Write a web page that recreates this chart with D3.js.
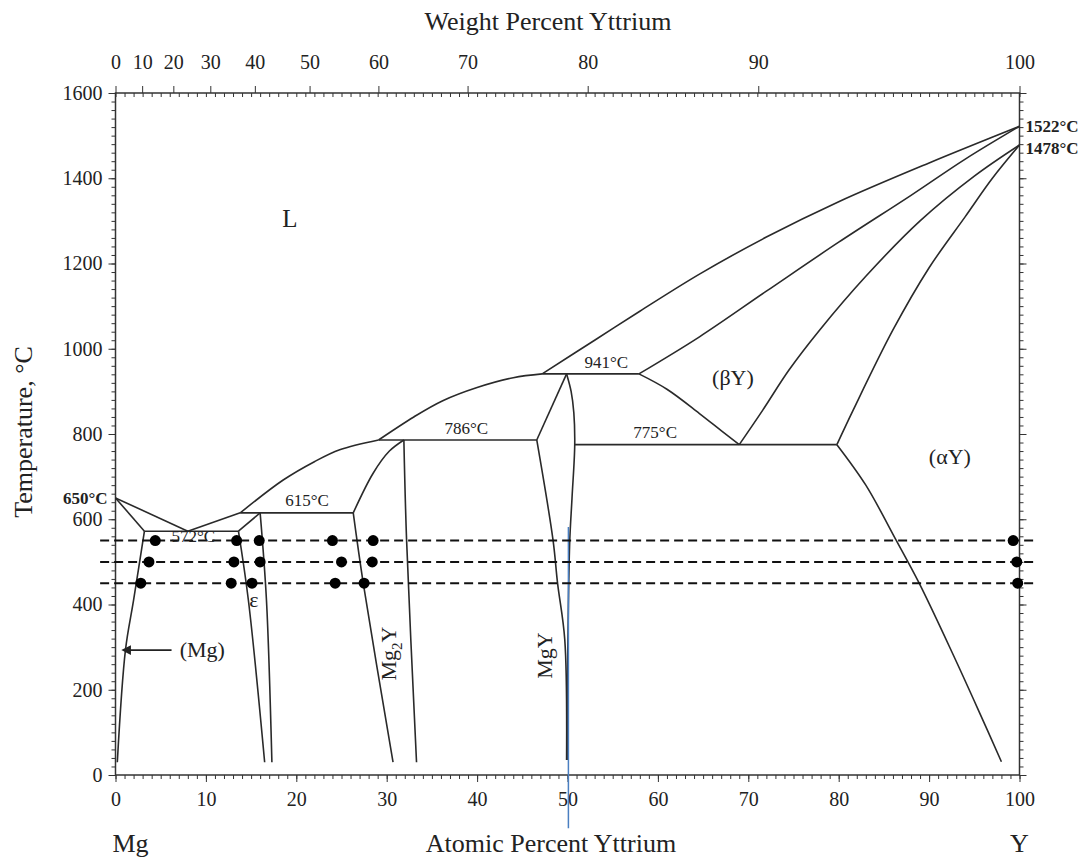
<!DOCTYPE html>
<html>
<head>
<meta charset="utf-8">
<script src="https://cdn.jsdelivr.net/npm/d3@7"></script>
<style>
  body { margin: 0; background: #fff; }
  svg text { font-family: "Liberation Serif", "Times New Roman", serif; fill: #222; }
</style>
</head>
<body>
<svg id="chart" width="1092" height="859"></svg>
<script>
// ---- data (atomic % Y, temperature °C) ----
const atTicks = [0, 10, 20, 30, 40, 50, 60, 70, 80, 90, 100];
const wtTicks = [0, 10, 20, 30, 40, 50, 60, 70, 80, 90, 100];
const tempTicks = [0, 200, 400, 600, 800, 1000, 1200, 1400, 1600];

const liquidusMg = [[0, 650], [8, 572]];
const solidusMg = [[0, 650], [3.2, 572]];
const solvusMg = [[3.2, 572], [2.0, 410], [1.1, 293], [0.2, 30]];
const eutectic572 = [[3.2, 572], [13.6, 572]];
const liquidusEps = [[8, 572], [13.8, 615]];
const epsTop = [[16.0, 615], [13.6, 572]];
const epsLeft = [[13.6, 572], [14.7, 410], [16.5, 30]];
const epsRight = [[16.0, 615], [16.7, 410], [17.3, 30]];
const peritectic615 = [[13.8, 615], [26.3, 615]];
const liquidusMid = [[13.8, 615], [18.55, 692], [22, 735], [24.8, 763], [29.1, 786]];
const mg2yTop = [[31.9, 786], [30.3, 760], [28.5, 708], [26.3, 615]];
const mg2yLeft = [[26.3, 615], [27.4, 451], [30.7, 30]];
const mg2yRight = [[31.9, 786], [32.2, 551], [33.3, 30]];
const peritectic786 = [[29.1, 786], [46.6, 786]];
const liquidusUpper = [[29.1, 786], [33, 840], [36.2, 878], [40, 909], [44, 932], [47.2, 941]];
const eutectic941 = [[47.2, 941], [57.9, 941]];
const mgyTop = [[49.9, 941], [46.6, 786]];
const mgyLeft = [[46.6, 786], [48.4, 551], [48.9, 450], [49.7, 317], [49.9, 35]];
const mgyRight = [[49.9, 941], [50.4, 900], [50.7, 850], [50.8, 775], [50.5, 650], [50.25, 550], [50.1, 400], [50.0, 200], [50.0, 35]];
const eutectoid775 = [[50.8, 775], [79.8, 775]];
const liquidusY = [[47.2, 941], [53, 1020], [58, 1088], [64.6, 1175], [72, 1262], [80, 1345], [90, 1436], [100, 1522]];
const solidusY = [[57.9, 941], [64.6, 1028], [72, 1135], [80, 1250], [88, 1360], [94, 1445], [100, 1522]];
const betaLower = [[57.9, 941], [61, 905], [64.6, 848], [67, 808], [69.0, 775]];
const betaRight = [[69.0, 775], [71.6, 856], [74.5, 950], [77.9, 1044], [83, 1170], [89, 1300], [95, 1405], [100, 1478]];
const alphaLeft = [[79.8, 775], [81.6, 856], [86.0, 1044], [90, 1190], [94, 1310], [97, 1400], [100, 1478]];
const solvusY = [[79.8, 775], [83, 680], [86.35, 551], [88.9, 450], [92.6, 285], [95.5, 150], [98, 31]];

const isotherms = [550, 500, 450];
const dots550 = [4.4, 13.4, 15.9, 24.0, 28.5, 99.3];
const dots500 = [3.7, 13.1, 16.0, 25.0, 28.4, 99.7];
const dots450 = [2.8, 12.8, 15.1, 24.3, 27.5, 99.8];
const blueLine = [[50.1, 582], [50.1, -125]];

const tempLabels = [
  { t: "572°C", x: 8.6, y: 546 },
  { t: "615°C", x: 21.2, y: 630 },
  { t: "786°C", x: 38.8, y: 800 },
  { t: "941°C", x: 54.3, y: 956 },
  { t: "775°C", x: 59.7, y: 790 }
];
const phaseLabels = [
  { t: "L", x: 19.3, y: 1285, size: 25 },
  { t: "(βY)", x: 68.3, y: 915, size: 22 },
  { t: "(αY)", x: 92.3, y: 730, size: 22 },
  { t: "ε", x: 15.3, y: 395, size: 22 },
  { t: "(Mg)", x: 9.6, y: 278, size: 22 }
];

// ---- layout ----
const svg = d3.select("#chart");
const x = d3.scaleLinear().domain([0, 100]).range([115.5, 1019.5]);
const y = d3.scaleLinear().domain([0, 1600]).range([775, 93]);

// wt% -> at% with atomic masses of Mg and Y
const mMg = 24.305, mY = 88.906;
function wtToAt(w) {
  const a = w / mY, b = (100 - w) / mMg;
  return 100 * a / (a + b);
}

const line = d3.line().x(d => x(d[0])).y(d => y(d[1])).curve(d3.curveCatmullRom);

svg.append("defs").html(`
  <marker id="arrow" viewBox="0 0 10 10" refX="1" refY="5" markerWidth="7" markerHeight="6" orient="auto-start-reverse">
    <path d="M0,0 L10,5 L0,10 z" fill="#222"/>
  </marker>`);

// frame
svg.append("rect")
  .attr("x", x(0)).attr("y", y(1600))
  .attr("width", x(100) - x(0)).attr("height", y(0) - y(1600))
  .attr("fill", "none").attr("stroke", "#333").attr("stroke-width", 1.5);

// bottom axis
const bottom = svg.append("g").attr("transform", `translate(0,${y(0)})`);
bottom.call(d3.axisBottom(x).tickValues(d3.range(0, 101, 1)).tickSize(4).tickFormat(""));
bottom.call(g => g.selectAll(".domain").remove());
const bottomMaj = svg.append("g").attr("transform", `translate(0,${y(0)})`)
  .call(d3.axisBottom(x).tickValues(atTicks).tickSize(7).tickPadding(10));
bottomMaj.select(".domain").remove();
bottomMaj.selectAll("text").style("font-size", "20px").attr("fill", "#222");

// top axis (weight percent)
const top1 = svg.append("g").attr("transform", `translate(0,${y(1600)})`);
top1.call(d3.axisBottom(x).tickValues(d3.range(0, 101, 1)).tickSize(4).tickFormat(""));
top1.call(g => g.selectAll(".domain").remove());
const topMaj = svg.append("g").attr("transform", `translate(0,${y(1600)})`)
  .call(d3.axisTop(x).tickValues(wtTicks.map(wtToAt)).tickSize(7).tickPadding(17)
    .tickFormat((d, i) => wtTicks[i]));
topMaj.select(".domain").remove();
topMaj.selectAll("text").style("font-size", "20px").attr("fill", "#222");

// left axis
const left1 = svg.append("g").attr("transform", `translate(${x(0)},0)`);
left1.call(d3.axisLeft(y).tickValues(d3.range(0, 1601, 20)).tickSize(4).tickFormat(""));
left1.select(".domain").remove();
const leftMaj = svg.append("g").attr("transform", `translate(${x(0)},0)`)
  .call(d3.axisLeft(y).tickValues(tempTicks).tickSize(7).tickPadding(6).tickFormat(d3.format("d")));
leftMaj.select(".domain").remove();
leftMaj.selectAll("text").style("font-size", "20px").attr("fill", "#222");

// right axis
const right1 = svg.append("g").attr("transform", `translate(${x(100)},0)`);
right1.call(d3.axisRight(y).tickValues(d3.range(0, 1601, 20)).tickSize(4).tickFormat(""));
right1.select(".domain").remove();
const rightMaj = svg.append("g").attr("transform", `translate(${x(100)},0)`)
  .call(d3.axisRight(y).tickValues(tempTicks).tickSize(7).tickFormat(""));
rightMaj.select(".domain").remove();
svg.selectAll(".tick line").attr("stroke", "#333");

// phase boundaries
const boundaries = [liquidusMg, solidusMg, solvusMg, eutectic572, liquidusEps, epsTop, epsLeft, epsRight,
  peritectic615, liquidusMid, mg2yTop, mg2yLeft, mg2yRight, peritectic786, liquidusUpper, eutectic941,
  mgyTop, mgyLeft, mgyRight, eutectoid775, liquidusY, solidusY, betaLower, betaRight, alphaLeft, solvusY];
svg.append("g").selectAll("path")
  .data(boundaries)
  .enter().append("path")
  .attr("d", line)
  .attr("fill", "none")
  .attr("stroke", "#2a2a2a")
  .attr("stroke-width", 1.6);

// blue marker line
svg.append("path")
  .attr("d", d3.line().x(d => x(d[0])).y(d => y(d[1]))(blueLine))
  .attr("stroke", "#4a7fc1").attr("stroke-width", 1.5);

// dashed isotherms
svg.append("g").selectAll("line")
  .data(isotherms)
  .enter().append("line")
  .attr("x1", x(-1.7)).attr("x2", x(101.7))
  .attr("y1", d => y(d)).attr("y2", d => y(d))
  .attr("stroke", "#111").attr("stroke-width", 2)
  .attr("stroke-dasharray", "9,5");

// sample points
const dots = [];
[[550, dots550], [500, dots500], [450, dots450]].forEach(([t, arr]) => arr.forEach(v => dots.push([v, t])));
svg.append("g").selectAll("circle")
  .data(dots)
  .enter().append("circle")
  .attr("cx", d => x(d[0])).attr("cy", d => y(d[1]))
  .attr("r", 5.5).attr("fill", "#000");

// temperature labels
svg.append("g").selectAll("text")
  .data(tempLabels)
  .enter().append("text")
  .attr("x", d => x(d.x)).attr("y", d => y(d.y))
  .attr("text-anchor", "middle")
  .style("font-size", "17px")
  .attr("fill", d => d.t === "572°C" ? "#666" : "#222")
  .text(d => d.t);

svg.append("g").selectAll("text")
  .data(phaseLabels)
  .enter().append("text")
  .attr("x", d => x(d.x)).attr("y", d => y(d.y))
  .attr("text-anchor", "middle")
  .style("font-size", d => d.size + "px")
  .text(d => d.t);

// (Mg) arrow
svg.append("line")
  .attr("x1", x(6.2)).attr("y1", y(293)).attr("x2", x(1.6)).attr("y2", y(293))
  .attr("stroke", "#222").attr("stroke-width", 1.6)
  .attr("marker-end", "url(#arrow)");

// rotated compound labels
const mg2y = svg.append("text")
  .attr("transform", `translate(${x(31.0)},${y(285)}) rotate(-90)`)
  .attr("text-anchor", "middle").style("font-size", "22px");
mg2y.append("tspan").text("Mg");
mg2y.append("tspan").text("2").attr("dy", 6).style("font-size", "15px");
mg2y.append("tspan").text("Y").attr("dy", -6);

svg.append("text")
  .attr("transform", `translate(${x(48.3)},${y(280)}) rotate(-90)`)
  .attr("text-anchor", "middle").style("font-size", "22px")
  .text("MgY");

// melting points
svg.append("text").attr("x", x(0) - 8).attr("y", y(650) + 6)
  .attr("text-anchor", "end").style("font-size", "17px").style("font-weight", "bold").text("650°C");
svg.append("text").attr("x", x(100) + 6).attr("y", y(1522) + 6)
  .style("font-size", "17px").style("font-weight", "bold").text("1522°C");
svg.append("text").attr("x", x(100) + 6).attr("y", y(1478) + 9)
  .style("font-size", "17px").style("font-weight", "bold").text("1478°C");

// axis titles
svg.append("text").attr("x", 548).attr("y", 30).attr("text-anchor", "middle")
  .style("font-size", "26px").text("Weight Percent Yttrium");
svg.append("text").attr("x", 551).attr("y", 852).attr("text-anchor", "middle")
  .style("font-size", "26px").text("Atomic Percent Yttrium");
svg.append("text").attr("x", x(0) - 3).attr("y", 852)
  .style("font-size", "26px").text("Mg");
svg.append("text").attr("x", x(100)).attr("y", 852).attr("text-anchor", "middle")
  .style("font-size", "26px").text("Y");
svg.append("text")
  .attr("transform", `translate(32,${y(800) - 2}) rotate(-90)`)
  .attr("text-anchor", "middle").style("font-size", "26px")
  .text("Temperature, °C");
</script>
</body>
</html>
